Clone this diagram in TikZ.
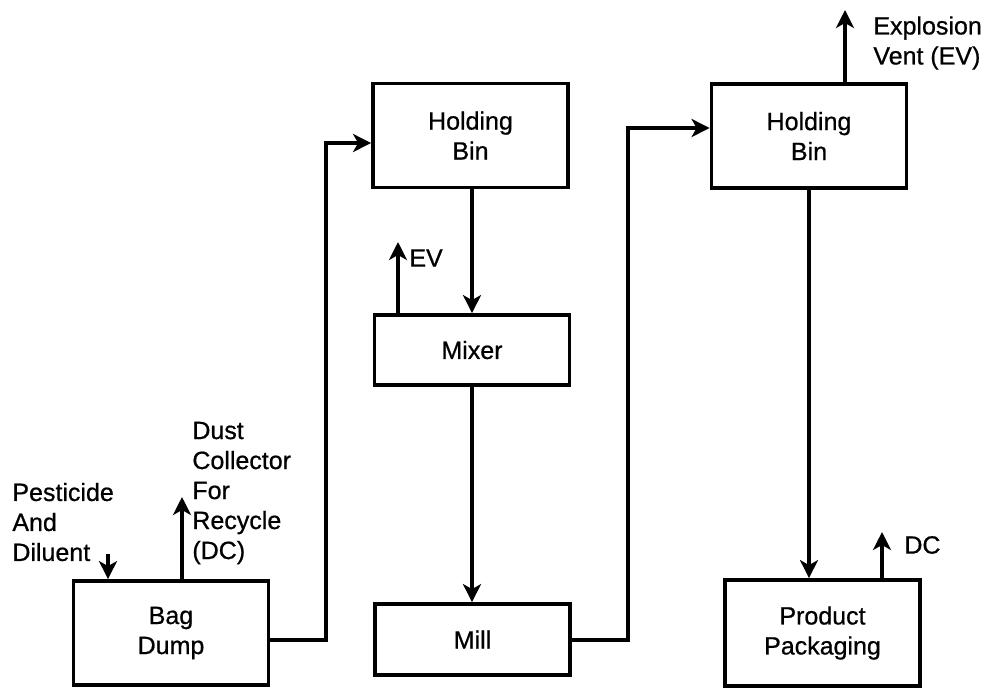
\documentclass[tikz,border=0pt]{standalone}
\usepackage{fontspec}
\setmainfont{Liberation Sans}[FakeBold=0.7]
\usepackage{tikz}
\usetikzlibrary{arrows.meta,calc}

\begin{document}
\begin{tikzpicture}[x=0.5pt,y=-0.5pt, every node/.style={font=\fontsize{12.5}{15}\selectfont,align=left}]
\tikzset{unit/.style={draw,line width=1.9pt,minimum width=97.5pt,minimum height=52pt,inner sep=0pt,align=center},
  flow/.style={-{Stealth[length=9pt,width=9pt,inset=2.5pt]},line width=1.7pt},
  tag/.style={inner sep=0pt,anchor=west}}
\useasboundingbox (0,0) rectangle (989,687);
% process units
\node[unit] (bag) at (171,633) {Bag\\Dump};
\node[unit] (binA) at (470.5,135.5) {Holding\\Bin};
\node[unit,minimum height=35pt] (mixer) at (472,350) {Mixer};
\node[unit,minimum height=35.5pt] (mill) at (472.5,639.5) {Mill};
\node[unit] (binB) at (809,136) {Holding\\Bin};
\node[unit,minimum height=53pt] (pack) at (822.5,633) {Product\\Packaging};
% side streams
\node[tag] (feed) at (12,522) {Pesticide\\And\\Diluent};
\node[tag] (dcA) at (192,493) {Dust\\Collector\\For\\Recycle\\(DC)};
\node[tag] (evA) at (409,258) {EV};
\node[tag] (evB) at (873,43) {Explosion\\Vent (EV)};
\node[tag] (dcB) at (904,545) {DC};
\coordinate (feedtop) at (108,554);
\coordinate (dcAtip) at (182,497);
\coordinate (evAtip) at (398,242);
\coordinate (evBtip) at (845,10);
\coordinate (dcBtip) at (882,532);
\coordinate (jA) at (326,640);
\coordinate (kA) at (326,143);
\coordinate (jB) at (628,640);
\coordinate (kB) at (628,128);
% flows
\draw[flow] (feedtop) -- (bag.north -| feedtop);
\draw[flow] (bag.north -| dcAtip) -- (dcAtip);
\draw[flow] (bag.east |- jA) -- (jA) -- (kA) -- (binA.west |- kA);
\draw[flow] (binA.south -| mixer.north) -- (mixer.north);
\draw[flow] (mixer.north -| evAtip) -- (evAtip);
\draw[flow] (mixer.south) -- (mill.north -| mixer.south);
\draw[flow] (mill.east |- jB) -- (jB) -- (kB) -- (binB.west |- kB);
\draw[flow] (binB.north -| evBtip) -- (evBtip);
\draw[flow] (binB.south) -- (pack.north -| binB.south);
\draw[flow] (pack.north -| dcBtip) -- (dcBtip);
\end{tikzpicture}
\end{document}
